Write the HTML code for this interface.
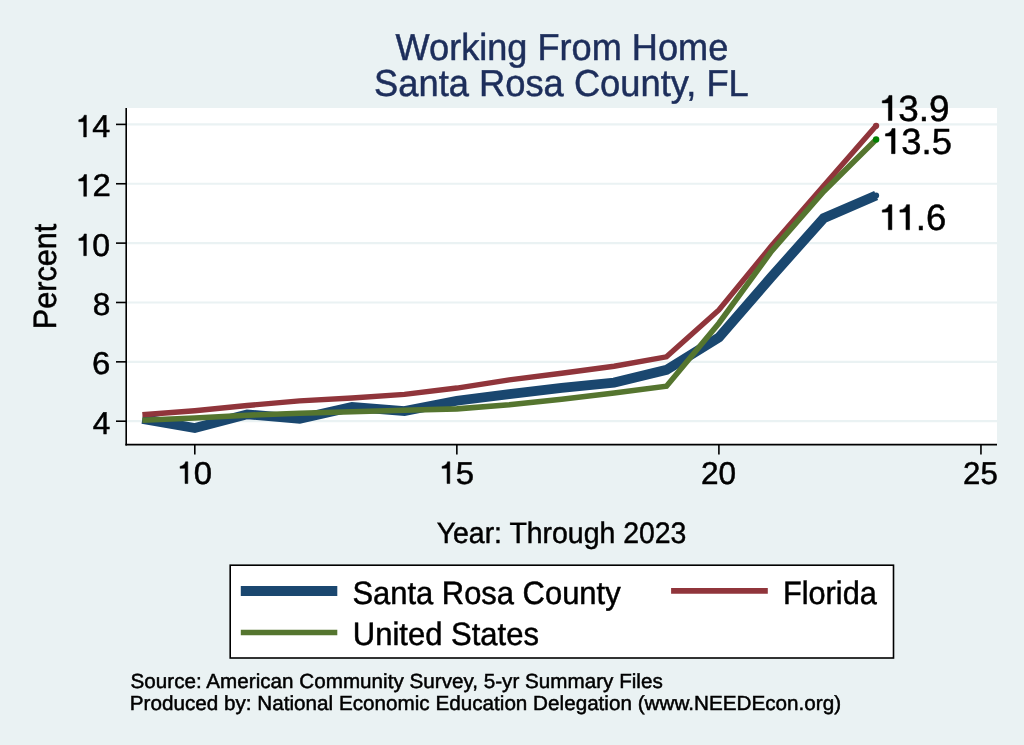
<!DOCTYPE html>
<html><head><meta charset="utf-8"><title>Working From Home - Santa Rosa County, FL</title><style>
html,body{margin:0;padding:0;background:#eaf2f3;overflow:hidden;}
svg{display:block;will-change:transform;}
text{font-family:"Liberation Sans",sans-serif;fill:#000;text-rendering:geometricPrecision;}
</style></head><body>
<svg width="1024" height="745" viewBox="0 0 1024 745">
<rect x="0" y="0" width="1024" height="745" fill="#eaf2f3"/>
<g transform="translate(395.60,59.65) scale(0.9509,0.9868)"><text x="0" y="0" font-size="38" style="fill:#1d2e5b;stroke:#1d2e5b;stroke-width:0.5">Working From Home</text></g>
<g transform="translate(374.07,95.85) scale(0.9555,0.9868)"><text x="0" y="0" font-size="38" style="fill:#1d2e5b;stroke:#1d2e5b;stroke-width:0.5">Santa Rosa County, FL</text></g>
<rect x="126" y="108" width="871" height="336.6" fill="#fff"/>
<line x1="126" x2="997" y1="421.20" y2="421.20" stroke="#eaf2f3" stroke-width="2.2"/>
<line x1="126" x2="997" y1="361.84" y2="361.84" stroke="#eaf2f3" stroke-width="2.2"/>
<line x1="126" x2="997" y1="302.48" y2="302.48" stroke="#eaf2f3" stroke-width="2.2"/>
<line x1="126" x2="997" y1="243.12" y2="243.12" stroke="#eaf2f3" stroke-width="2.2"/>
<line x1="126" x2="997" y1="183.76" y2="183.76" stroke="#eaf2f3" stroke-width="2.2"/>
<line x1="126" x2="997" y1="124.40" y2="124.40" stroke="#eaf2f3" stroke-width="2.2"/>
<polyline points="142.39,418.83 194.80,428.03 247.21,414.37 299.62,418.83 352.03,406.95 404.44,411.11 456.85,400.72 509.26,394.19 561.67,387.96 614.08,382.62 666.49,369.85 718.90,337.50 771.31,276.96 823.72,218.19 876.13,195.48" fill="none" stroke="#1a476f" stroke-width="9.8" stroke-linejoin="miter"/>
<circle cx="876.13" cy="195.48" r="3" fill="#1a476f"/>
<polyline points="142.39,414.79 194.80,410.69 247.21,405.47 299.62,400.90 352.03,398.05 404.44,394.34 456.85,388.05 509.26,379.80 561.67,373.24 614.08,366.26 666.49,356.79 718.90,309.90 771.31,246.09 823.72,185.84 876.13,125.79" fill="none" stroke="#90353b" stroke-width="5.4" stroke-linejoin="miter"/>
<circle cx="876.13" cy="125.79" r="3.1" fill="#90353b"/>
<polyline points="142.39,420.25 194.80,417.94 247.21,415.26 299.62,413.25 352.03,411.70 404.44,410.31 456.85,408.91 509.26,404.79 561.67,399.24 614.08,393.00 666.49,386.18 718.90,323.26 771.31,251.43 823.72,191.48 876.13,139.39" fill="none" stroke="#55752f" stroke-width="5.6" stroke-linejoin="miter"/>
<circle cx="876.13" cy="139.39" r="3.2" fill="#008000"/>
<line x1="126.2" x2="126.2" y1="108" y2="445.4" stroke="#000" stroke-width="1.6"/>
<line x1="125.4" x2="997" y1="444.6" y2="444.6" stroke="#000" stroke-width="1.6"/>
<line x1="116" x2="126" y1="421.20" y2="421.20" stroke="#000" stroke-width="1.6"/>
<line x1="116" x2="126" y1="361.84" y2="361.84" stroke="#000" stroke-width="1.6"/>
<line x1="116" x2="126" y1="302.48" y2="302.48" stroke="#000" stroke-width="1.6"/>
<line x1="116" x2="126" y1="243.12" y2="243.12" stroke="#000" stroke-width="1.6"/>
<line x1="116" x2="126" y1="183.76" y2="183.76" stroke="#000" stroke-width="1.6"/>
<line x1="116" x2="126" y1="124.40" y2="124.40" stroke="#000" stroke-width="1.6"/>
<line x1="194.80" x2="194.80" y1="444.6" y2="454.5" stroke="#000" stroke-width="1.6"/>
<line x1="456.85" x2="456.85" y1="444.6" y2="454.5" stroke="#000" stroke-width="1.6"/>
<line x1="718.90" x2="718.90" y1="444.6" y2="454.5" stroke="#000" stroke-width="1.6"/>
<line x1="980.95" x2="980.95" y1="444.6" y2="454.5" stroke="#000" stroke-width="1.6"/>
<g transform="translate(92.71,433.75) scale(0.9879,0.9875)"><text x="0" y="0" font-size="32" style="fill:#000;stroke:#000;stroke-width:0.5">4</text></g>
<g transform="translate(92.06,374.39) scale(1.0295,0.9875)"><text x="0" y="0" font-size="32" style="fill:#000;stroke:#000;stroke-width:0.5">6</text></g>
<g transform="translate(92.67,315.03) scale(0.9871,0.9875)"><text x="0" y="0" font-size="32" style="fill:#000;stroke:#000;stroke-width:0.5">8</text></g>
<g transform="translate(74.44,255.67) scale(1.0017,0.9875)"><text x="0" y="0" font-size="32" style="fill:#000;stroke:#000;stroke-width:0.5"><tspan style="fill:transparent;stroke:none">1</tspan>0</text><path d="M593 0L764 0L764 1409L625 1409C590 1260 480 1135 282 1112L282 986L593 990Z" transform="translate(0.000,0) scale(0.015625,-0.015625)" style="fill:#000;stroke:#000;stroke-width:32.00"/></g>
<g transform="translate(74.22,196.31) scale(1.0300,0.9875)"><text x="0" y="0" font-size="32" style="fill:#000;stroke:#000;stroke-width:0.5"><tspan style="fill:transparent;stroke:none">1</tspan>2</text><path d="M593 0L764 0L764 1409L625 1409C590 1260 480 1135 282 1112L282 986L593 990Z" transform="translate(0.000,0) scale(0.015625,-0.015625)" style="fill:#000;stroke:#000;stroke-width:32.00"/></g>
<g transform="translate(74.30,136.95) scale(1.0114,0.9875)"><text x="0" y="0" font-size="32" style="fill:#000;stroke:#000;stroke-width:0.5"><tspan style="fill:transparent;stroke:none">1</tspan>4</text><path d="M593 0L764 0L764 1409L625 1409C590 1260 480 1135 282 1112L282 986L593 990Z" transform="translate(0.000,0) scale(0.015625,-0.015625)" style="fill:#000;stroke:#000;stroke-width:32.00"/></g>
<g transform="translate(175.53,483.55) scale(1.0281,0.9875)"><text x="0" y="0" font-size="32" style="fill:#000;stroke:#000;stroke-width:0.5"><tspan style="fill:transparent;stroke:none">1</tspan>0</text><path d="M593 0L764 0L764 1409L625 1409C590 1260 480 1135 282 1112L282 986L593 990Z" transform="translate(0.000,0) scale(0.015625,-0.015625)" style="fill:#000;stroke:#000;stroke-width:32.00"/></g>
<g transform="translate(437.53,483.55) scale(1.0281,0.9875)"><text x="0" y="0" font-size="32" style="fill:#000;stroke:#000;stroke-width:0.5"><tspan style="fill:transparent;stroke:none">1</tspan>5</text><path d="M593 0L764 0L764 1409L625 1409C590 1260 480 1135 282 1112L282 986L593 990Z" transform="translate(0.000,0) scale(0.015625,-0.015625)" style="fill:#000;stroke:#000;stroke-width:32.00"/></g>
<g transform="translate(700.97,483.55) scale(0.9865,0.9875)"><text x="0" y="0" font-size="32" style="fill:#000;stroke:#000;stroke-width:0.5">20</text></g>
<g transform="translate(963.08,483.55) scale(0.9744,0.9875)"><text x="0" y="0" font-size="32" style="fill:#000;stroke:#000;stroke-width:0.5">25</text></g>
<g transform="translate(55.65,329.29) rotate(-90) scale(0.9578,1.0094)"><text x="0" y="0" font-size="32" style="fill:#000;stroke:#000;stroke-width:0.5">Percent</text></g>
<g transform="translate(436.68,543.45) scale(0.8883,0.9250)"><text x="0" y="0" font-size="32" style="fill:#000;stroke:#000;stroke-width:0.5">Year: Through 2023</text></g>
<g transform="translate(877.76,120.55) scale(0.9977,0.9865)"><text x="0" y="0" font-size="37" style="fill:#000;stroke:#000;stroke-width:0.5"><tspan style="fill:transparent;stroke:none">1</tspan>3.9</text><path d="M590 0L790 0L790 1409L622 1409C587 1260 477 1135 250 1112L250 986L590 990Z" transform="translate(0.000,0) scale(0.018066,-0.018066)" style="fill:#000;stroke:#000;stroke-width:27.68"/></g>
<g transform="translate(881.01,153.65) scale(0.9850,0.9865)"><text x="0" y="0" font-size="37" style="fill:#000;stroke:#000;stroke-width:0.5"><tspan style="fill:transparent;stroke:none">1</tspan>3.5</text><path d="M590 0L790 0L790 1409L622 1409C587 1260 477 1135 250 1112L250 986L590 990Z" transform="translate(0.000,0) scale(0.018066,-0.018066)" style="fill:#000;stroke:#000;stroke-width:27.68"/></g>
<g transform="translate(877.80,229.75) scale(0.9882,0.9865)"><text x="0" y="0" font-size="37" style="fill:#000;stroke:#000;stroke-width:0.5"><tspan style="fill:transparent;stroke:none">1</tspan><tspan style="fill:transparent;stroke:none">1</tspan>.6</text><path d="M590 0L790 0L790 1409L622 1409C587 1260 477 1135 250 1112L250 986L590 990Z" transform="translate(0.000,0) scale(0.018066,-0.018066)" style="fill:#000;stroke:#000;stroke-width:27.68"/><path d="M590 0L790 0L790 1409L622 1409C587 1260 477 1135 250 1112L250 986L590 990Z" transform="translate(17.844,0) scale(0.018066,-0.018066)" style="fill:#000;stroke:#000;stroke-width:27.68"/></g>
<rect x="230.2" y="565.2" width="663.3" height="92.8" fill="#fff" stroke="#000" stroke-width="1.6"/>
<line x1="240.8" x2="337.3" y1="591" y2="591" stroke="#1a476f" stroke-width="10"/>
<line x1="671.1" x2="767.8" y1="590.9" y2="590.9" stroke="#90353b" stroke-width="5.6"/>
<line x1="240.8" x2="337.3" y1="632.5" y2="632.5" stroke="#55752f" stroke-width="5.7"/>
<g transform="translate(352.43,603.65) scale(0.9371,0.9788)"><text x="0" y="0" font-size="33" style="fill:#000;stroke:#000;stroke-width:0.5">Santa Rosa County</text></g>
<g transform="translate(782.98,603.65) scale(0.9299,0.9788)"><text x="0" y="0" font-size="33" style="fill:#000;stroke:#000;stroke-width:0.5">Florida</text></g>
<g transform="translate(352.79,644.80) scale(0.9395,0.9788)"><text x="0" y="0" font-size="33" style="fill:#000;stroke:#000;stroke-width:0.5">United States</text></g>
<g transform="translate(130.51,688.30) scale(0.9837,0.9667)"><text x="0" y="0" font-size="21" style="fill:#000;stroke:#000;stroke-width:0.5">Source: American Community Survey, 5-yr Summary Files</text></g>
<g transform="translate(129.77,709.55) scale(0.9844,0.9667)"><text x="0" y="0" font-size="21" style="fill:#000;stroke:#000;stroke-width:0.5">Produced by: National Economic Education Delegation (www.NEEDEcon.org)</text></g>
</svg>
</body></html>
